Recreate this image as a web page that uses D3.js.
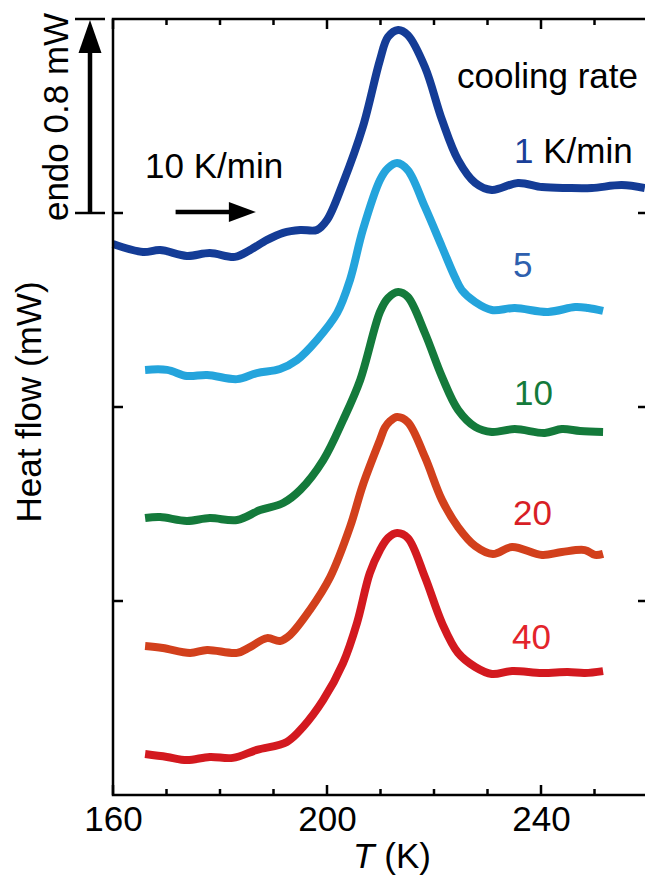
<!DOCTYPE html>
<html>
<head>
<meta charset="utf-8">
<script src="https://cdn.jsdelivr.net/npm/d3@7"></script>
<style>
  body { margin: 0; background: #fff; }
  text { font-family: "Liberation Sans", Arial, sans-serif; }
</style>
</head>
<body>
<div id="chart"></div>
<script>
// cooling rates (K/min), one curve each
var rates = ['1', '5', '10', '20', '40'];
var colors = ['#143c96', '#24a4dc', '#147a3b', '#d2401c', '#d3191f'];
var labelColors = ['#1a3f98', '#2e5fae', '#147a3b', '#d81e26', '#e3242b'];

// temperature (K) and heat flow (mW)
var T1 = [160, 165.6, 168.8, 173.8, 178.1, 182.8, 185.6, 188.8, 191.8, 195.0, 198.1, 200.0, 203.0, 206.7, 209.9, 211.4, 213.3, 215.1, 218.3, 221.5, 224.5, 227.7, 230.8, 235.7, 240.2, 245.0, 249.5, 255.1, 259.4];
var Q1 = [2.272, 2.239, 2.247, 2.223, 2.235, 2.219, 2.247, 2.289, 2.318, 2.330, 2.330, 2.371, 2.524, 2.755, 3.031, 3.126, 3.155, 3.134, 3.002, 2.784, 2.619, 2.524, 2.495, 2.524, 2.507, 2.503, 2.503, 2.515, 2.503];

var T5 = [166.0, 170.1, 173.8, 177.6, 183.2, 186.9, 191.2, 194.4, 198.1, 201.9, 204.3, 206.7, 209.9, 211.4, 213.1, 215.1, 218.3, 221.5, 223.9, 225.2, 227.7, 230.8, 235.1, 241.3, 246.4, 248.8, 251.6];
var Q5 = [1.753, 1.753, 1.728, 1.732, 1.715, 1.740, 1.757, 1.794, 1.876, 1.988, 2.124, 2.330, 2.536, 2.585, 2.606, 2.577, 2.425, 2.260, 2.136, 2.082, 2.033, 2.000, 2.008, 1.992, 2.012, 2.008, 1.996];

var T10 = [166.0, 168.8, 173.8, 178.1, 183.2, 187.5, 191.8, 195.0, 199.3, 203.0, 206.2, 209.9, 211.4, 213.3, 215.1, 218.3, 221.5, 224.5, 227.7, 230.8, 235.1, 240.7, 243.9, 247.3, 251.6];
var Q10 = [1.142, 1.146, 1.130, 1.142, 1.134, 1.175, 1.204, 1.258, 1.381, 1.546, 1.711, 1.992, 2.049, 2.074, 2.054, 1.905, 1.724, 1.588, 1.518, 1.497, 1.509, 1.493, 1.509, 1.501, 1.497];

var T20 = [166.0, 169.3, 174.4, 177.6, 183.2, 185.6, 188.8, 191.2, 193.1, 196.8, 200.6, 204.3, 206.7, 209.9, 210.8, 211.8, 213.1, 215.1, 218.3, 221.5, 224.5, 227.7, 231.0, 234.6, 240.2, 243.9, 248.2, 250.1, 251.6];
var Q20 = [0.614, 0.606, 0.586, 0.598, 0.586, 0.610, 0.647, 0.635, 0.660, 0.763, 0.899, 1.105, 1.278, 1.464, 1.514, 1.542, 1.559, 1.538, 1.394, 1.216, 1.105, 1.027, 0.994, 1.023, 0.990, 1.002, 1.010, 0.990, 0.994];

var T40 = [166.0, 170.1, 173.8, 178.1, 182.4, 186.9, 192.5, 195.5, 199.3, 203.0, 205.6, 208.0, 209.9, 211.4, 213.1, 215.1, 218.3, 221.5, 224.5, 227.7, 230.8, 234.6, 240.2, 245.0, 248.2, 251.6];
var Q40 = [0.169, 0.157, 0.144, 0.157, 0.153, 0.186, 0.219, 0.280, 0.392, 0.544, 0.709, 0.915, 1.010, 1.060, 1.080, 1.060, 0.899, 0.709, 0.586, 0.528, 0.499, 0.511, 0.503, 0.507, 0.503, 0.511];

var xMajor = [160, 200, 240];
var xMinor = [170, 180, 190, 210, 220, 230, 250];
var yTicks = [0.8, 1.6, 2.4];
var scaleBar = [2.4, 3.2];   // endo 0.8 mW
var heatRate = [171.7, 186.7]; // 10 K/min arrow

var width = 645, height = 879;
var fs = 35;
var svg = d3.select('#chart').append('svg')
    .attr('width', width)
    .attr('height', height);

var x = d3.scaleLinear().domain([160, 260]).range([113, 648]);
var y = d3.scaleLinear().domain([0, 3.2]).range([795, 19]);

var series = [[T1, Q1], [T5, Q5], [T10, Q10], [T20, Q20], [T40, Q40]];

var line = d3.line()
    .curve(d3.curveCatmullRom.alpha(0.5))
    .x(function(d) { return x(d[0]); })
    .y(function(d) { return y(d[1]); });

series.forEach(function(s, i) {
    var pts = s[0].map(function(t, j) { return [t, s[1][j]]; });
    svg.append('path')
        .datum(pts)
        .attr('d', line)
        .attr('fill', 'none')
        .attr('stroke', colors[i])
        .attr('stroke-width', 8)
        .attr('stroke-linejoin', 'round')
        .attr('stroke-linecap', 'butt');
});

// frame
svg.append('rect')
    .attr('x', x(160)).attr('y', y(3.2))
    .attr('width', x(260) - x(160)).attr('height', y(0) - y(3.2))
    .attr('fill', 'none').attr('stroke', '#000').attr('stroke-width', 2.5);

// x tick labels
var xb = d3.axisBottom(x).tickValues(xMajor).tickSize(0).tickPadding(14);
var gx = svg.append('g').attr('transform', 'translate(0,' + y(0) + ')').call(xb);
gx.select('.domain').remove();
gx.selectAll('text').style('font-size', fs + 'px').attr('fill', '#000').attr('dy', '0.62em');

// x ticks, inward, bottom and top
[[y(0), -1], [y(3.2), 1]].forEach(function(p) {
    svg.selectAll(null).data(xMajor.concat(xMinor)).enter().append('line')
        .attr('x1', function(d) { return x(d); })
        .attr('x2', function(d) { return x(d); })
        .attr('y1', p[0])
        .attr('y2', function(d) { return p[0] + p[1] * (xMajor.indexOf(d) >= 0 ? 10 : 6); })
        .attr('stroke', '#000').attr('stroke-width', 2.5);
});

// y ticks, inward, left and right
[[x(160), 1], [x(260), -1]].forEach(function(p) {
    svg.selectAll(null).data(yTicks).enter().append('line')
        .attr('x1', p[0]).attr('x2', p[0] + p[1] * 10)
        .attr('y1', function(d) { return y(d); })
        .attr('y2', function(d) { return y(d); })
        .attr('stroke', '#000').attr('stroke-width', 2.5);
});

// axis titles
svg.append('text')
    .attr('transform', 'translate(41,' + 402 + ') rotate(-90)')
    .attr('text-anchor', 'middle')
    .style('font-size', fs + 'px')
    .text('Heat flow (mW)');

var tt = svg.append('text')
    .attr('x', 392).attr('y', 868)
    .attr('text-anchor', 'middle')
    .style('font-size', fs + 'px');
tt.append('tspan').style('font-style', 'italic').text('T');
tt.append('tspan').text(' (K)');

// scale bar: endo 0.8 mW
var bx = 90;
svg.append('line')
    .attr('x1', bx).attr('x2', bx)
    .attr('y1', y(scaleBar[0])).attr('y2', y(scaleBar[1]) + 25)
    .attr('stroke', '#000').attr('stroke-width', 4.5);
svg.append('path')
    .attr('d', 'M' + bx + ',' + (y(scaleBar[1]) + 1) + 'L' + (bx - 11.5) + ',' + (y(scaleBar[1]) + 34) + 'L' + (bx + 11.5) + ',' + (y(scaleBar[1]) + 34) + 'Z')
    .attr('fill', '#000');
scaleBar.forEach(function(v) {
    svg.append('line')
        .attr('x1', 75).attr('x2', 105)
        .attr('y1', y(v)).attr('y2', y(v))
        .attr('stroke', '#000').attr('stroke-width', 2.5);
});
svg.append('text')
    .attr('transform', 'translate(68,' + ((y(scaleBar[0]) + y(scaleBar[1])) / 2 + 1) + ') rotate(-90)')
    .attr('text-anchor', 'middle')
    .style('font-size', fs + 'px')
    .text('endo 0.8 mW');

// heating direction arrow
var ay = y(2.4) - 1;
svg.append('line')
    .attr('x1', x(heatRate[0])).attr('x2', x(heatRate[1]) - 20)
    .attr('y1', ay).attr('y2', ay)
    .attr('stroke', '#000').attr('stroke-width', 4.5);
svg.append('path')
    .attr('d', 'M' + x(heatRate[1]) + ',' + ay + 'L' + (x(heatRate[1]) - 27) + ',' + (ay - 10) + 'L' + (x(heatRate[1]) - 27) + ',' + (ay + 10) + 'Z')
    .attr('fill', '#000');
svg.append('text')
    .attr('x', 145).attr('y', 178)
    .style('font-size', fs + 'px')
    .text('10 K/min');

// curve labels
svg.append('text')
    .attr('x', 457).attr('y', 88)
    .style('font-size', fs + 'px')
    .text('cooling rate');
var labelY = [163, 277, 405, 525, 649];
var labelX = [514, 513, 514, 513, 512];
rates.forEach(function(r, i) {
    var t = svg.append('text')
        .attr('x', labelX[i]).attr('y', labelY[i])
        .style('font-size', fs + 'px');
    t.append('tspan').attr('fill', labelColors[i]).text(r);
    if (i === 0) t.append('tspan').attr('fill', '#000').text(' K/min');
});
</script>
</body>
</html>
